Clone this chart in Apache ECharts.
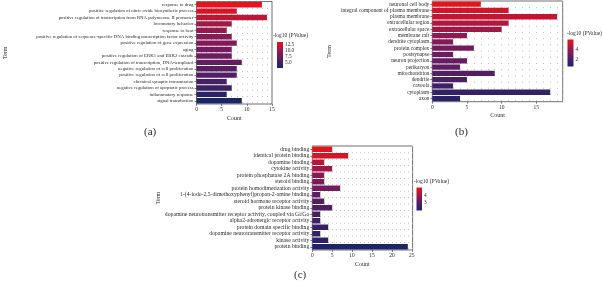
<!DOCTYPE html>
<html><head><meta charset="utf-8">
<script src="https://cdn.jsdelivr.net/npm/echarts@6/dist/echarts.min.js"></script>
<style>html,body{margin:0;padding:0;background:#fff}#c{width:602px;height:286px}</style>
</head><body><div id="c"></div>
<script>
// ---------- DATA ----------
const termsA = ['response to drug','positive regulation of nitric oxide biosynthetic process','positive regulation of transcription from RNA polymerase II promoter','locomotory behavior','response to heat','positive regulation of sequence-specific DNA binding transcription factor activity','positive regulation of gene expression','aging','positive regulation of ERK1 and ERK2 cascade','positive regulation of transcription, DNA-templated','negative regulation of cell proliferation','positive regulation of cell proliferation','chemical synaptic transmission','negative regulation of apoptotic process','inflammatory response','signal transduction'];
const countsA = [13, 8, 14, 7, 6, 7, 8, 7, 7, 9, 8, 8, 6, 7, 6, 9];
const logpA = [13.7, 12.8, 11.6, 10.3, 9.8, 9.3, 8.8, 8.3, 7.8, 7.2, 6.6, 6.0, 5.4, 4.8, 4.0, 3.0];
const ticksA = [0, 5, 10, 15];
const legendTicksA = [5, 7.5, 10, 12.5];

const termsB = ['neuronal cell body','integral component of plasma membrane','plasma membrane','extracellular region','extracellular space','membrane raft','dendrite cytoplasm','protein complex','postsynapse','neuron projection','perikaryon','mitochondrion','dendrite','caveola','cytoplasm','axon'];
const countsB = [7, 11, 18, 11, 10, 5, 3, 6, 3, 5, 4, 9, 5, 3, 17, 4];
const logpB = [5.8, 5.4, 5.0, 4.6, 4.2, 3.8, 3.5, 3.2, 3.0, 2.7, 2.5, 2.2, 1.9, 1.6, 1.3, 1.0];
const ticksB = [0, 5, 10, 15];
const legendTicksB = [2, 4];

const termsC = ['drug binding','identical protein binding','dopamine binding','cytokine activity','protein phosphatase 2A binding','steroid binding','protein homodimerization activity','1-(4-iodo-2,5-dimethoxyphenyl)propan-2-amine binding','steroid hormone receptor activity','protein kinase binding','dopamine neurotransmitter receptor activity, coupled via Gi/Go','alpha2-adrenergic receptor activity','protein domain specific binding','dopamine neurotransmitter receptor activity','kinase activity','protein binding'];
const countsC = [5, 9, 3, 5, 3, 3, 7, 2, 3, 5, 2, 2, 4, 2, 4, 24];
const logpC = [5.0, 4.8, 4.4, 4.1, 3.8, 3.6, 3.4, 3.0, 2.9, 2.8, 2.6, 2.5, 2.4, 2.3, 2.2, 2.0];
const ticksC = [0, 5, 10, 15, 20, 25];
const legendTicksC = [3, 4];

// ---------- STYLE ----------
const FONT = 'Liberation Serif';
const TXT = '#2a2a2a';
const NAVY = '#1b2468', MID = '#761b5e', RED = '#e8141c';
const COLORS = [NAVY, MID, RED];

const chart = echarts.init(document.getElementById('c'), null, {renderer: 'canvas'});

const grids = [], xAxes = [], yAxes = [], series = [], visualMaps = [];

function addPanel(p) {
  const gi = grids.length;
  grids.push({left: p.g[0], top: p.g[1], width: p.g[2], height: p.g[3], show: true,
    borderColor: '#333', borderWidth: 0.7, backgroundColor: 'transparent'});
  const xi = xAxes.length;
  xAxes.push({gridIndex: gi, type: 'value', min: 0, max: p.xMax, interval: 5,
    axisLine: {show: false},
    axisTick: {show: true, length: 2, customValues: p.ticks, lineStyle: {color: '#333', width: 0.6}},
    axisLabel: {customValues: p.ticks, fontSize: 5.5, fontFamily: FONT, color: TXT, margin: 2.5},
    splitLine: {show: false},
    name: 'Count', nameLocation: 'middle', nameGap: 11,
    nameTextStyle: {fontSize: 6, fontFamily: FONT, color: TXT}});
  // secondary axis only for the dotted unit grid
  xAxes.push({gridIndex: gi, type: 'value', position: 'top', min: 0, max: p.xMax, interval: 1,
    axisLine: {show: false}, axisTick: {show: false}, axisLabel: {show: false},
    splitLine: {show: true, lineStyle: {color: '#b0b0b0', width: 0.9, type: [0.9, p.dot]}}});
  yAxes.push({gridIndex: gi, type: 'category', inverse: true, data: p.terms,
    axisLine: {show: false},
    axisTick: {show: true, length: 2, alignWithLabel: true, lineStyle: {color: '#333', width: 0.6}},
    axisLabel: {fontSize: p.fs, fontFamily: FONT, color: TXT, margin: 3, interval: 0},
    name: 'Term', nameLocation: 'middle', nameRotate: 90, nameGap: p.termGap,
    nameTextStyle: {fontSize: 6, fontFamily: FONT, color: TXT}});
  const data = p.counts.map((c, i) => [c, p.terms[i], p.logp[i]]);
  series.push({type: 'bar', xAxisIndex: xi, yAxisIndex: gi, data: data,
    encode: {x: 0, y: 1}, barCategoryGap: '16%', silent: true});
  p.seriesIdx = series.length - 1;
}

function addColorbar(p) {
  const gi = grids.length;
  const xi = xAxes.length;
  grids.push({left: p.cb[0], top: p.cb[1], width: p.cb[2], height: p.cb[3], show: false});
  xAxes.push({gridIndex: gi, type: 'category', data: [''], show: false});
  yAxes.push({gridIndex: gi, type: 'value', min: p.cbMin, max: p.cbMax, position: 'right',
    axisLine: {show: false}, splitLine: {show: false},
    axisTick: {show: true, inside: true, length: 1.5, customValues: p.legendTicks, lineStyle: {color: '#fff', width: 0.6}},
    axisLabel: {customValues: p.legendTicks, formatter: p.fmt, fontSize: 5.3, fontFamily: FONT, color: TXT, margin: 2}});
  series.push({type: 'bar', xAxisIndex: xi, yAxisIndex: gi, data: [p.cbMax], barWidth: '100%', silent: true,
    itemStyle: {color: new echarts.graphic.LinearGradient(0, 1, 0, 0,
      [{offset: 0, color: NAVY}, {offset: 0.5, color: MID}, {offset: 1, color: RED}])}});
  visualMaps.push({show: false, type: 'continuous', seriesIndex: p.seriesIdx, dimension: 2,
    min: p.cbMin, max: p.cbMax, inRange: {color: COLORS}});
}

const panels = [
  {terms: termsA, counts: countsA, logp: logpA, ticks: ticksA, xMax: 15, g: [196.5, 1.5, 75.5, 102.5], termGap: 188, fs: 4.8, dot: 5.4,
   cb: [277, 42, 6, 26], cbMin: 2.9, cbMax: 13.75, legendTicks: legendTicksA, fmt: v => v.toFixed(1)},
  {terms: termsB, counts: countsB, logp: logpB, ticks: ticksB, xMax: 18.8, g: [432.3, 1, 130.4, 100.7], termGap: 100, fs: 5.4, dot: 5.3,
   cb: [567.5, 39.5, 6, 27], cbMin: 0.6, cbMax: 5.9, legendTicks: legendTicksB, fmt: v => String(v)},
  {terms: termsC, counts: countsC, logp: logpC, ticks: ticksC, xMax: 25.2, g: [312.3, 146, 100.3, 104], termGap: 60, fs: 5.7, dot: 5.5,
   cb: [416.5, 187.5, 5.5, 23], cbMin: 1.9, cbMax: 5.1, legendTicks: legendTicksC, fmt: v => String(v)}
];
panels.forEach(addPanel);
panels.forEach(addColorbar);

const titleStyle = {fontSize: 11, fontWeight: 'normal', fontFamily: FONT, color: TXT};
const legStyle = {fontSize: 5.5, fontWeight: 'normal', fontFamily: FONT, color: TXT};
chart.setOption({
  animation: false,
  backgroundColor: '#fff',
  title: [
    {text: '(a)', left: 144, top: 127, padding: 0, textStyle: titleStyle},
    {text: '(b)', left: 455, top: 127, padding: 0, textStyle: titleStyle},
    {text: '(c)', left: 294, top: 270, padding: 0, textStyle: titleStyle},
    {text: '-log10 (PValue)', left: 273, top: 33, padding: 0, textStyle: legStyle},
    {text: '-log10 (PValue)', left: 567, top: 31, padding: 0, textStyle: legStyle},
    {text: '-log10 (PValue)', left: 414, top: 179, padding: 0, textStyle: legStyle}
  ],
  grid: grids, xAxis: xAxes, yAxis: yAxes, series: series, visualMap: visualMaps
});
</script></body></html>
